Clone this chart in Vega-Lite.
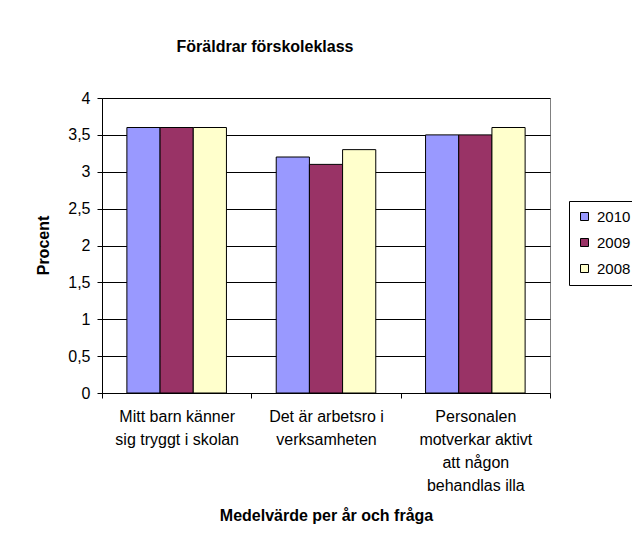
{
  "$schema": "https://vega.github.io/schema/vega-lite/v6.json",
  "width": 448,
  "height": 295,
  "autosize": {"type": "none"},
  "padding": {"left": 102, "top": 98, "right": 82, "bottom": 149},
  "background": "white",
  "title": {
    "text": "Föräldrar förskoleklass",
    "anchor": "middle",
    "frame": "group",
    "dx": -61,
    "offset": 35,
    "font": "Liberation Sans",
    "fontSize": 16,
    "fontWeight": "bold",
    "color": "black"
  },
  "data": {
    "values": [
      {"fraga": "Mitt barn känner|sig tryggt i skolan", "ar": "2010", "varde": 3.6},
      {"fraga": "Mitt barn känner|sig tryggt i skolan", "ar": "2009", "varde": 3.6},
      {"fraga": "Mitt barn känner|sig tryggt i skolan", "ar": "2008", "varde": 3.6},
      {"fraga": "Det är arbetsro i|verksamheten", "ar": "2010", "varde": 3.2},
      {"fraga": "Det är arbetsro i|verksamheten", "ar": "2009", "varde": 3.1},
      {"fraga": "Det är arbetsro i|verksamheten", "ar": "2008", "varde": 3.3},
      {"fraga": "Personalen|motverkar aktivt|att någon|behandlas illa", "ar": "2010", "varde": 3.5},
      {"fraga": "Personalen|motverkar aktivt|att någon|behandlas illa", "ar": "2009", "varde": 3.5},
      {"fraga": "Personalen|motverkar aktivt|att någon|behandlas illa", "ar": "2008", "varde": 3.6}
    ]
  },
  "mark": {"type": "bar", "stroke": "black", "strokeWidth": 1},
  "encoding": {
    "x": {
      "field": "fraga",
      "type": "nominal",
      "sort": null,
      "scale": {"paddingInner": 0, "paddingOuter": 0},
      "axis": {
        "title": "Medelvärde per år och fråga",
        "titleFont": "Liberation Sans",
        "titleFontSize": 16,
        "titleFontWeight": "bold",
        "titleColor": "black",
        "titleY": 122,
        "titleBaseline": "middle",
        "labelAngle": 0,
        "labelExpr": "split(datum.label, '|')",
        "labelLineHeight": 23,
        "labelBaseline": "top",
        "labelPadding": 10,
        "labelFont": "Liberation Sans",
        "labelFontSize": 16,
        "labelColor": "black",
        "labelLimit": 200,
        "tickBand": "extent",
        "tickSize": 5,
        "tickColor": "black",
        "domainColor": "black",
        "grid": false
      }
    },
    "xOffset": {
      "field": "ar",
      "type": "nominal",
      "sort": ["2010", "2009", "2008"],
      "scale": {"paddingInner": 0, "paddingOuter": 0.75}
    },
    "y": {
      "field": "varde",
      "type": "quantitative",
      "scale": {"domain": [0, 4], "nice": false},
      "axis": {
        "title": "Procent",
        "titleFont": "Liberation Sans",
        "titleFontSize": 16,
        "titleFontWeight": "bold",
        "titleColor": "black",
        "titleX": -59,
        "titleY": 147,
        "titleBaseline": "middle",
        "titleAngle": -90,
        "values": [0, 0.5, 1, 1.5, 2, 2.5, 3, 3.5, 4],
        "labelExpr": "replace(format(datum.value, '~g'), '.', ',')",
        "labelFont": "Liberation Sans",
        "labelFontSize": 16,
        "labelColor": "black",
        "labelPadding": 7,
        "tickSize": 5,
        "tickColor": "black",
        "domainColor": "black",
        "grid": true,
        "gridColor": "black",
        "gridWidth": 1,
        "gridOpacity": 1
      }
    },
    "color": {
      "field": "ar",
      "type": "nominal",
      "sort": ["2010", "2009", "2008"],
      "scale": {"domain": ["2010", "2009", "2008"], "range": ["#9999FF", "#993366", "#FFFFCC"]},
      "legend": {
        "title": null,
        "orient": "none",
        "legendX": 467,
        "legendY": 103,
        "strokeColor": "black",
        "padding": 8,
        "symbolType": "square",
        "symbolSize": 64,
        "symbolStrokeColor": "black",
        "symbolStrokeWidth": 1,
        "symbolOpacity": 1,
        "labelFont": "Liberation Sans",
        "labelFontSize": 15,
        "labelColor": "black",
        "labelOffset": 5,
        "rowPadding": 10
      }
    }
  },
  "config": {
    "view": {"stroke": "#808080", "strokeWidth": 1},
    "font": "Liberation Sans"
  }
}
